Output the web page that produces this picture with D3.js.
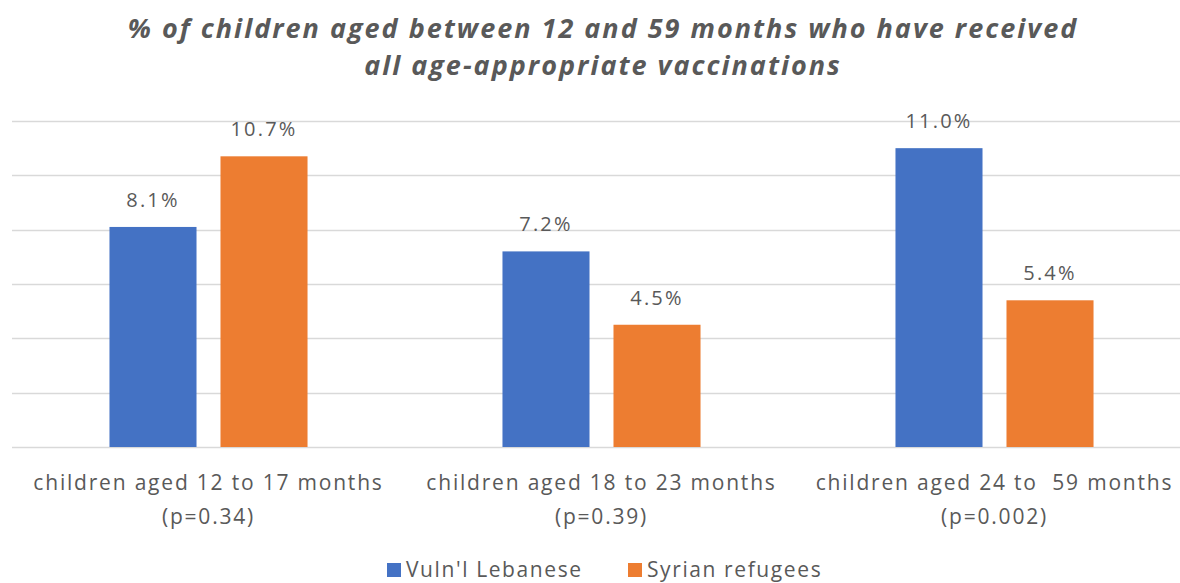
<!DOCTYPE html>
<html>
<head>
<meta charset="utf-8">
<script src="https://cdn.jsdelivr.net/npm/d3@7"></script>
<style>
  body { margin: 0; background: #fff; }
  svg { display: block; }
  .title { font-family: "Open Sans", Lato, sans-serif; font-weight: 700; font-style: italic; fill: #595959; }
  .lbl { font-family: "Open Sans", Lato, sans-serif; fill: #595959; white-space: pre; }
</style>
</head>
<body>
<svg id="chart"></svg>
<script>
// chart values
const categories = ["children aged 12 to 17 months", "children aged 18 to 23 months", "children aged 24 to  59 months"];
const pValues = ["(p=0.34)", "(p=0.39)", "(p=0.002)"];
const seriesNames = ["Vuln'l Lebanese", "Syrian refugees"];
const lebanese = [8.1, 7.2, 11.0];
const syrian = [10.7, 4.5, 5.4];
const yTicks = [0, 2, 4, 6, 8, 10, 12];
const titleLines = ["% of children aged between 12 and 59 months who have received", "all age-appropriate vaccinations"];
const colors = ["#4472C4", "#ED7D31"];

const width = 1180, height = 583;
const margin = {top: 121, right: -11, bottom: 136, left: 12};
const innerW = width - margin.left - margin.right;
const innerH = height - margin.top - margin.bottom;

const svg = d3.select('#chart')
    .attr('width', width)
    .attr('height', height);

// title
svg.append('text')
    .attr('class', 'title')
    .attr('text-anchor', 'middle')
    .style('font-size', '27px')
    .style('letter-spacing', '2px')
  .selectAll('tspan')
    .data(titleLines)
  .join('tspan')
    .attr('x', 603)
    .attr('y', (d, i) => 38 + i * 37)
    .text(d => d);

const chart = svg.append('g')
    .attr('transform', `translate(${margin.left},${margin.top})`);

const x0 = d3.scaleBand()
    .domain(categories)
    .range([0, innerW]);

const x1 = d3.scaleBand()
    .domain(seriesNames)
    .range([0, x0.bandwidth()])
    .paddingInner(0.216)
    .paddingOuter(0.878);

const y = d3.scaleLinear()
    .domain([0, 12])
    .range([innerH, 0]);

// gridlines
chart.append('g')
  .selectAll('line')
    .data(yTicks)
  .join('line')
    .attr('x1', 0)
    .attr('x2', innerW)
    .attr('y1', d => Math.round(y(d)) + 0.5)
    .attr('y2', d => Math.round(y(d)) + 0.5)
    .attr('stroke', '#d9d9d9')
    .attr('stroke-width', 1.5);

const rows = categories.map((c, i) => ({
  cat: c,
  vals: [
    {key: seriesNames[0], value: lebanese[i]},
    {key: seriesNames[1], value: syrian[i]}
  ]
}));

const groups = chart.append('g')
  .selectAll('g')
    .data(rows)
  .join('g')
    .attr('transform', d => `translate(${x0(d.cat)},0)`);

groups.selectAll('rect')
    .data(d => d.vals)
  .join('rect')
    .attr('x', d => x1(d.key))
    .attr('y', d => y(d.value))
    .attr('width', x1.bandwidth())
    .attr('height', d => innerH - y(d.value))
    .attr('fill', (d, i) => colors[i]);

groups.selectAll('text.val')
    .data(d => d.vals)
  .join('text')
    .attr('class', 'lbl val')
    .attr('x', d => x1(d.key) + x1.bandwidth() / 2)
    .attr('y', d => y(d.value) - 20)
    .attr('text-anchor', 'middle')
    .style('font-size', '20px')
    .style('letter-spacing', '2.2px')
    .text(d => d.value.toFixed(1) + '%');

// category labels
const catLabels = chart.append('g')
  .selectAll('text')
    .data(rows)
  .join('text')
    .attr('class', 'lbl')
    .attr('text-anchor', 'middle')
    .style('font-size', '21px')
    .style('letter-spacing', '1.8px');

catLabels.append('tspan')
    .attr('x', d => x0(d.cat) + x0.bandwidth() / 2)
    .attr('y', innerH + 43)
    .text(d => d.cat);

catLabels.append('tspan')
    .attr('x', d => x0(d.cat) + x0.bandwidth() / 2)
    .attr('y', innerH + 77)
    .text((d, i) => pValues[i]);

// legend
const legend = svg.append('g')
    .attr('transform', 'translate(387,562)');

const legendX = [0, 241];
const items = legend.selectAll('g')
    .data(seriesNames)
  .join('g')
    .attr('transform', (d, i) => `translate(${legendX[i]},0)`);

items.append('rect')
    .attr('width', 14)
    .attr('height', 14)
    .attr('y', 1)
    .attr('fill', (d, i) => colors[i]);

items.append('text')
    .attr('class', 'lbl')
    .attr('x', 19)
    .attr('y', 15)
    .style('font-size', '21px')
    .style('letter-spacing', '1.6px')
    .text(d => d);
</script>
</body>
</html>
